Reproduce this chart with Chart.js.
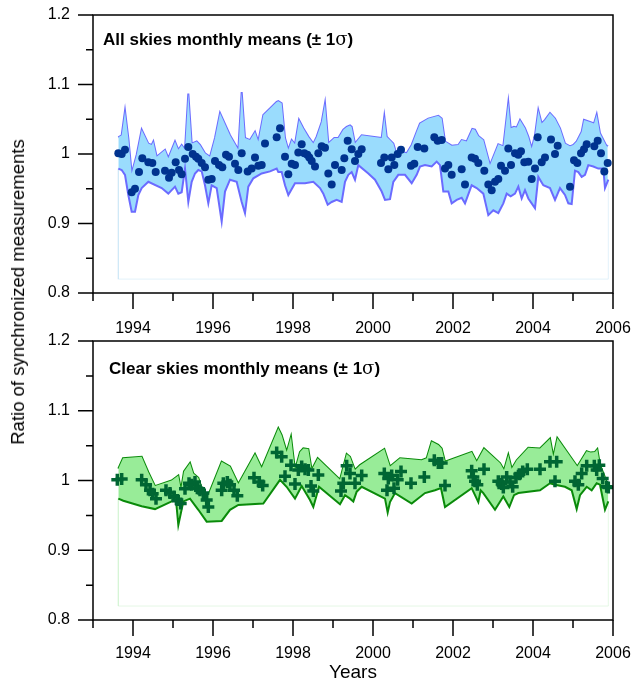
<!DOCTYPE html>
<html>
<head>
<meta charset="utf-8">
<script src="https://cdn.jsdelivr.net/npm/chart.js@4.4.1/dist/chart.umd.min.js"></script>
<style>
  body { margin: 0; background: #fff; overflow: hidden; }
  canvas { position: absolute; left: 0; }
  #topChart { top: 0; }
  #bottomChart { top: 326px; }
  #ytitle {
    position: absolute; left: 18px; top: 292px;
    transform: translate(-50%, -50%) rotate(-90deg);
    white-space: nowrap; font: 18.5px "Liberation Sans", Arial, sans-serif; color: #000;
  }
</style>
</head>
<body>
<canvas id="topChart" width="633" height="341"></canvas>
<canvas id="bottomChart" width="633" height="360"></canvas>
<div id="ytitle">Ratio of synchronized measurements</div>
<script>
// ========== DATA: ALL SKIES ==========
const allYears = [
  1993.633, 1993.717, 1993.8, 1993.967, 1994.05, 1994.15, 1994.233, 1994.383, 1994.483, 1994.567,
  1994.8, 1994.9, 1994.967, 1995.067, 1995.15, 1995.217, 1995.3, 1995.383, 1995.492, 1995.575,
  1995.633, 1995.717, 1995.8, 1995.883, 1995.967, 1996.05, 1996.15, 1996.233, 1996.325, 1996.4,
  1996.55, 1996.633, 1996.717, 1996.867, 1996.967, 1997.05, 1997.133, 1997.217, 1997.3, 1997.592,
  1997.675, 1997.8, 1997.883, 1997.967, 1998.05, 1998.133, 1998.217, 1998.283, 1998.358, 1998.408,
  1998.467, 1998.55, 1998.633, 1998.717, 1998.8, 1998.883, 1998.967, 1999.05, 1999.217, 1999.283,
  1999.367, 1999.467, 1999.55, 1999.633, 1999.717, 2000.2, 2000.283, 2000.383, 2000.467, 2000.533,
  2000.617, 2000.7, 2000.95, 2001.033, 2001.117, 2001.283, 2001.533, 2001.617, 2001.717, 2001.8,
  2001.883, 2001.967, 2002.217, 2002.3, 2002.467, 2002.55, 2002.633, 2002.783, 2002.883, 2002.967,
  2003.05, 2003.133, 2003.2, 2003.3, 2003.383, 2003.45, 2003.55, 2003.633, 2003.7, 2003.783,
  2003.883, 2003.967, 2004.05, 2004.117, 2004.217, 2004.3, 2004.45, 2004.55, 2004.617, 2004.925,
  2005.025, 2005.108, 2005.2, 2005.275, 2005.342, 2005.533, 2005.617, 2005.7, 2005.783, 2005.867
];
const allRatio = [
  1.001, 1.000, 1.006, 0.945, 0.950, 0.974, 0.994, 0.988, 0.987, 0.974,
  0.976, 0.966, 0.973, 0.988, 0.977, 0.971, 0.993, 1.010, 1.000, 0.996,
  0.993, 0.987, 0.981, 0.963, 0.964, 0.990, 0.984, 0.981, 0.999, 0.996,
  0.986, 0.977, 1.001, 0.975, 0.979, 0.995, 0.983, 0.984, 1.015, 1.024,
  1.037, 0.996, 0.971, 0.986, 0.984, 1.002, 1.014, 1.001, 0.999, 0.995,
  0.990, 0.982, 1.001, 1.011, 1.009, 0.972, 0.956, 0.984, 0.977, 0.994,
  1.019, 1.007, 0.990, 1.000, 1.007, 0.987, 0.995, 0.978, 0.995, 0.984,
  1.000, 1.006, 0.983, 0.986, 1.010, 1.008, 1.024, 1.019, 1.020, 0.979,
  0.984, 0.970, 0.978, 0.956, 0.995, 0.993, 0.987, 0.976, 0.956, 0.948,
  0.960, 0.964, 0.983, 0.976, 1.008, 0.984, 1.001, 0.999, 1.004, 0.988,
  0.989, 0.964, 0.979, 1.024, 0.988, 0.995, 1.021, 1.000, 1.012, 0.953,
  0.991, 0.987, 1.001, 1.007, 1.014, 1.011, 1.019, 1.001, 0.975, 0.987
];
const allUpperYears = [
  1993.633, 1993.717, 1993.8, 1993.883, 1993.967, 1994.092, 1994.217, 1994.383, 1994.467, 1994.508,
  1994.592, 1994.8, 1994.883, 1995.05, 1995.133, 1995.217, 1995.3, 1995.383, 1995.467, 1995.592,
  1995.675, 1995.8, 1995.925, 1996.05, 1996.175, 1996.425, 1996.633, 1996.717, 1996.8, 1996.925,
  1997.05, 1997.133, 1997.258, 1997.592, 1997.633, 1997.717, 1997.8, 1997.883, 1997.967, 1998.05,
  1998.15, 1998.258, 1998.383, 1998.508, 1998.592, 1998.717, 1998.8, 1998.883, 1999.033, 1999.133,
  1999.258, 1999.342, 1999.425, 1999.467, 1999.55, 1999.717, 2000.217, 2000.283, 2000.342, 2000.425,
  2000.508, 2000.592, 2000.717, 2000.842, 2000.967, 2001.092, 2001.175, 2001.383, 2001.633, 2001.717,
  2001.8, 2001.883, 2001.967, 2002.133, 2002.217, 2002.342, 2002.483, 2002.55, 2002.633, 2002.758,
  2002.925, 2003.133, 2003.258, 2003.383, 2003.442, 2003.525, 2003.592, 2003.675, 2003.8, 2003.883,
  2003.967, 2004.05, 2004.133, 2004.217, 2004.3, 2004.425, 2004.55, 2004.675, 2004.8, 2004.925,
  2005.008, 2005.092, 2005.217, 2005.275, 2005.425, 2005.525, 2005.592, 2005.675, 2005.842, 2005.867
];
const allUpper = [
  1.024, 1.027, 1.062, 1.023, 0.972, 0.999, 1.035, 1.015, 1.013, 1.018,
  0.996, 1.006, 0.994, 1.018, 1.006, 1.013, 1.006, 1.087, 1.015, 1.018,
  1.013, 1.001, 0.996, 1.023, 1.059, 1.027, 1.006, 1.089, 1.023, 1.020,
  1.032, 1.018, 1.056, 1.075, 1.076, 1.073, 1.023, 1.006, 1.020, 1.014,
  1.049, 1.037, 1.025, 1.015, 1.025, 1.046, 1.073, 1.015, 1.023, 1.023,
  1.035, 1.039, 1.041, 1.039, 1.015, 1.027, 1.023, 1.054, 1.025, 1.020,
  1.015, 0.999, 1.003, 1.001, 1.013, 1.032, 1.044, 1.051, 1.055, 1.051,
  1.018, 1.015, 1.012, 1.013, 1.020, 1.018, 1.036, 1.035, 1.026, 1.020,
  0.984, 1.014, 1.011, 1.074, 1.037, 1.039, 1.038, 1.049, 1.037, 1.025,
  1.008, 1.027, 1.063, 1.044, 1.049, 1.059, 1.051, 1.037, 1.015, 1.011,
  1.013, 1.018, 1.032, 1.049, 1.046, 1.044, 1.057, 1.030, 1.011, 1.013
];
const allLowerYears = [
  1993.633, 1993.717, 1993.8, 1993.883, 1993.967, 1994.05, 1994.133, 1994.217, 1994.383, 1994.717,
  1994.883, 1994.967, 1995.05, 1995.133, 1995.217, 1995.3, 1995.383, 1995.467, 1995.55, 1995.633,
  1995.717, 1995.8, 1995.883, 1995.967, 1996.092, 1996.217, 1996.3, 1996.425, 1996.592, 1996.717,
  1996.8, 1996.883, 1997.008, 1997.217, 1997.425, 1997.592, 1997.633, 1997.717, 1997.8, 1997.883,
  1998.05, 1998.3, 1998.508, 1998.675, 1998.758, 1998.867, 1998.967, 1999.092, 1999.217, 1999.3,
  1999.383, 1999.467, 1999.55, 1999.633, 1999.883, 2000.05, 2000.217, 2000.3, 2000.425, 2000.508,
  2000.633, 2000.8, 2000.967, 2001.092, 2001.175, 2001.3, 2001.467, 2001.592, 2001.675, 2001.758,
  2001.883, 2001.967, 2002.092, 2002.217, 2002.3, 2002.467, 2002.592, 2002.758, 2002.883, 2003.008,
  2003.133, 2003.258, 2003.342, 2003.442, 2003.55, 2003.633, 2003.717, 2003.8, 2003.883, 2003.967,
  2004.05, 2004.133, 2004.258, 2004.425, 2004.55, 2004.675, 2004.8, 2004.883, 2004.967, 2005.05,
  2005.133, 2005.217, 2005.3, 2005.383, 2005.508, 2005.633, 2005.758, 2005.8, 2005.883
];
const allLower = [
  0.979, 0.977, 0.970, 0.941, 0.917, 0.917, 0.941, 0.951, 0.960, 0.951,
  0.943, 0.948, 0.953, 0.943, 0.945, 0.979, 0.931, 0.960, 0.972, 0.977,
  0.975, 0.955, 0.929, 0.955, 0.951, 0.903, 0.946, 0.963, 0.960, 0.931,
  0.915, 0.953, 0.965, 0.972, 0.975, 0.979, 0.974, 0.974, 0.955, 0.941,
  0.958, 0.958, 0.960, 0.951, 0.943, 0.927, 0.931, 0.934, 0.931, 0.960,
  0.970, 0.974, 0.963, 0.984, 0.972, 0.963, 0.946, 0.934, 0.935, 0.960,
  0.970, 0.970, 0.958, 0.970, 0.982, 0.984, 0.982, 0.989, 0.984, 0.946,
  0.946, 0.929, 0.934, 0.937, 0.929, 0.955, 0.951, 0.943, 0.912, 0.919,
  0.915, 0.929, 0.943, 0.939, 0.943, 0.953, 0.936, 0.948, 0.936, 0.929,
  0.922, 0.967, 0.955, 0.951, 0.934, 0.951, 0.941, 0.929, 0.928, 0.976,
  0.974, 0.967, 0.970, 0.984, 0.982, 0.979, 0.979, 0.951, 0.963
];

// ========== DATA: CLEAR SKIES ==========
const clearYears = [
  1993.608, 1993.717, 1994.217, 1994.325, 1994.425, 1994.492, 1994.575, 1994.825, 1994.925, 1995.025,
  1995.108, 1995.192, 1995.3, 1995.4, 1995.467, 1995.55, 1995.608, 1995.675, 1995.758, 1995.842,
  1995.883, 1996.217, 1996.258, 1996.358, 1996.425, 1996.525, 1996.608, 1997.025, 1997.158, 1997.242,
  1997.592, 1997.717, 1997.8, 1997.95, 1998.05, 1998.133, 1998.217, 1998.3, 1998.383, 1998.45,
  1998.508, 1998.633, 1999.2, 1999.258, 1999.342, 1999.425, 1999.55, 1999.717, 2000.283, 2000.35,
  2000.383, 2000.467, 2000.525, 2000.617, 2000.7, 2000.95, 2001.283, 2001.533, 2001.633, 2001.717,
  2001.8, 2002.467, 2002.508, 2002.55, 2002.608, 2002.775, 2003.133, 2003.217, 2003.258, 2003.342,
  2003.425, 2003.492, 2003.575, 2003.658, 2003.742, 2003.858, 2004.175, 2004.425, 2004.55, 2004.592,
  2005.05, 2005.133, 2005.217, 2005.342, 2005.533, 2005.592, 2005.658, 2005.742, 2005.842, 2005.883
];
const clearRatio = [
  1.001, 1.002, 1.001, 0.994, 0.986, 0.981, 0.974, 0.986, 0.982, 0.977,
  0.972, 0.967, 0.988, 0.996, 0.994, 0.998, 0.989, 0.986, 0.982, 0.972,
  0.962, 0.986, 0.996, 0.998, 0.994, 0.986, 0.978, 1.004, 0.998, 0.993,
  1.040, 1.034, 1.006, 1.022, 0.995, 1.015, 1.020, 1.016, 1.015, 0.992,
  0.985, 1.008, 0.985, 0.996, 1.021, 1.010, 0.996, 1.007, 1.010, 0.986,
  1.003, 1.007, 0.989, 1.001, 1.013, 0.996, 1.005, 1.029, 1.025, 1.025,
  0.993, 1.014, 1.005, 0.999, 0.994, 1.016, 0.999, 0.995, 0.990, 1.005,
  0.998, 0.991, 1.004, 1.009, 1.013, 1.016, 1.016, 1.027, 0.999, 1.027,
  0.999, 0.994, 1.010, 1.021, 1.021, 1.015, 1.022, 1.003, 0.991, 0.990
];
const clearUpperYears = [
  1993.633, 1993.75, 1994.217, 1994.383, 1994.55, 1994.967, 1995.133, 1995.2, 1995.275, 1995.425,
  1995.508, 1995.633, 1995.75, 1995.883, 1996.217, 1996.425, 1996.633, 1997.05, 1997.217, 1997.633,
  1997.717, 1997.842, 1997.95, 1998.05, 1998.175, 1998.258, 1998.383, 1998.467, 1998.617, 1999.175,
  1999.342, 1999.425, 1999.55, 1999.675, 2000.283, 2000.425, 2000.675, 2001.217, 2001.342, 2001.467,
  2001.633, 2001.717, 2001.8, 2002.467, 2002.592, 2002.775, 2003.175, 2003.275, 2003.383, 2003.467,
  2003.592, 2003.883, 2004.175, 2004.425, 2004.508, 2004.608, 2005.108, 2005.342, 2005.442, 2005.55,
  2005.608, 2005.675, 2005.775, 2005.883
];
const clearUpper = [
  1.017, 1.032, 1.034, 1.012, 0.992, 1.000, 1.007, 0.986, 1.013, 1.025,
  1.010, 1.004, 0.983, 0.979, 1.027, 1.020, 0.995, 1.038, 1.018, 1.075,
  1.065, 1.041, 1.063, 1.015, 1.041, 1.046, 1.045, 1.015, 1.032, 1.001,
  1.038, 1.034, 1.015, 1.022, 1.045, 1.020, 1.032, 1.029, 1.032, 1.056,
  1.051, 1.046, 1.027, 1.041, 1.027, 1.046, 1.025, 1.015, 1.037, 1.017,
  1.029, 1.047, 1.046, 1.060, 1.034, 1.061, 1.020, 1.042, 1.040, 1.041,
  1.045, 1.022, 1.008, 0.990
];
const clearLowerYears = [
  1993.633, 1993.758, 1994.217, 1994.55, 1994.967, 1995.075, 1995.133, 1995.258, 1995.425, 1995.633,
  1995.842, 1996.217, 1996.425, 1996.633, 1997.258, 1997.675, 1997.84, 1998.05, 1998.217, 1998.425,
  1998.508, 1998.65, 1999.175, 1999.3, 1999.425, 1999.508, 1999.592, 1999.717, 2000.3, 2000.367,
  2000.425, 2000.55, 2000.967, 2001.3, 2001.55, 2001.7, 2001.8, 2002.467, 2002.55, 2002.633,
  2002.692, 2002.758, 2003.05, 2003.258, 2003.408, 2003.525, 2003.633, 2004.175, 2004.425, 2004.55,
  2004.8, 2004.967, 2005.092, 2005.175, 2005.342, 2005.467, 2005.592, 2005.675, 2005.8, 2005.883
];
const clearLower = [
  0.974, 0.971, 0.963, 0.959, 0.970, 0.972, 0.936, 0.970, 0.974, 0.958,
  0.941, 0.942, 0.958, 0.965, 0.967, 1.001, 0.991, 0.974, 0.992, 0.972,
  0.962, 0.991, 0.966, 0.979, 0.974, 0.970, 0.984, 0.991, 0.974, 0.954,
  0.969, 0.982, 0.967, 0.982, 0.986, 0.989, 0.962, 0.989, 0.979, 0.969,
  0.986, 0.982, 0.958, 0.977, 0.962, 0.979, 0.982, 0.986, 0.996, 0.994,
  0.991, 0.986, 0.959, 0.979, 0.991, 0.986, 0.996, 0.994, 0.958, 0.970
];

// ========== AXES ==========
const yearTicks = [1994, 1996, 1998, 2000, 2002, 2004, 2006];
const ratioTicks = [0.8, 0.9, 1, 1.1, 1.2];
const bandFloor = 0.82;   // faint outline left below each band

const FONT = '"Liberation Sans", Arial, sans-serif';

function pts(xs, ys) {
    return xs.map((x, i) => ({ x: x, y: ys[i] }));
}

// no label overflow padding, so the plot box lands where layout.padding says
function fixBox(s, key, size) {
    s[key] = size;
    s.paddingTop = 0;
    s.paddingBottom = 0;
    s.paddingLeft = 0;
    s.paddingRight = 0;
}

// ========== FRAME, TICKS, PANEL TITLE ==========
const framePlugin = {
    id: 'frame',
    afterDraw(chart, args, opts) {
        const { ctx, chartArea: a, scales: { x, y } } = chart;
        ctx.save();
        ctx.strokeStyle = '#000';
        ctx.lineWidth = 1.5;
        ctx.strokeRect(a.left, a.top, a.right - a.left, a.bottom - a.top);
        ctx.beginPath();
        y.ticks.forEach(t => {
            const py = y.getPixelForValue(t.value);
            const major = ratioTicks.some(r => Math.abs(r - t.value) < 1e-6);
            ctx.moveTo(a.left - (major ? 15 : 7), py);
            ctx.lineTo(a.left, py);
        });
        x.ticks.forEach(t => {
            const px = x.getPixelForValue(t.value);
            const major = yearTicks.includes(Math.round(t.value));
            ctx.moveTo(px, a.bottom);
            ctx.lineTo(px, a.bottom + (major ? 16 : 8));
        });
        ctx.stroke();

        // panel title, sigma in a plain face
        ctx.fillStyle = '#000';
        ctx.textBaseline = 'alphabetic';
        ctx.font = 'bold 17px ' + FONT;
        let tx = opts.x;
        ctx.fillText(opts.text, tx, opts.y);
        tx += ctx.measureText(opts.text).width;
        ctx.font = '18px "DejaVu Serif", serif';
        ctx.fillText('σ', tx, opts.y);
        tx += ctx.measureText('σ').width;
        ctx.font = 'bold 17px ' + FONT;
        ctx.fillText(')', tx, opts.y);
        ctx.restore();
    }
};

function makeChart(id, cfg) {
    const faint = [
        { x: cfg.lowerYears[0], y: cfg.lower[0] },
        { x: cfg.lowerYears[0], y: bandFloor },
        { x: cfg.lowerYears[cfg.lowerYears.length - 1], y: bandFloor },
        { x: cfg.lowerYears[cfg.lowerYears.length - 1], y: cfg.lower[cfg.lower.length - 1] }
    ];
    return new Chart(document.getElementById(id), {
        type: 'scatter',
        data: {
            datasets: [
                {
                    data: pts(cfg.years, cfg.ratio),
                    pointStyle: cfg.pointStyle,
                    pointRadius: cfg.pointRadius,
                    backgroundColor: cfg.markColor,
                    borderColor: cfg.markColor,
                    borderWidth: cfg.markBorder,
                    order: 0
                },
                {
                    data: pts(cfg.upperYears, cfg.upper),
                    showLine: true,
                    borderColor: cfg.lineColor,
                    borderWidth: 2,
                    pointRadius: 0,
                    fill: false,
                    order: 2
                },
                {
                    data: pts(cfg.lowerYears, cfg.lower),
                    showLine: true,
                    borderColor: cfg.lineColor,
                    backgroundColor: cfg.fillColor,
                    borderWidth: 2,
                    pointRadius: 0,
                    fill: '-1',
                    order: 1
                },
                {
                    data: faint,
                    showLine: true,
                    borderColor: cfg.faintColor,
                    borderWidth: 1,
                    pointRadius: 0,
                    order: 3
                }
            ]
        },
        options: {
            responsive: false,
            animation: false,
            devicePixelRatio: 1,
            layout: { padding: { top: 15, right: 20, left: 0, bottom: 0 } },
            plugins: {
                legend: { display: false },
                tooltip: { enabled: false },
                frame: { text: cfg.title, x: cfg.titleX, y: cfg.titleY }
            },
            scales: {
                x: {
                    type: 'linear',
                    min: 1993,
                    max: 2006,
                    afterFit: s => fixBox(s, 'height', cfg.xAxisHeight),
                    grid: { display: false, drawTicks: false },
                    border: { display: false },
                    ticks: {
                        stepSize: 1,
                        autoSkip: false,
                        maxRotation: 0,
                        padding: cfg.xPad,
                        color: '#000',
                        font: { family: FONT, size: 16 },
                        callback: v => yearTicks.includes(v) ? String(v) : ''
                    },
                    title: {
                        display: cfg.xTitle !== '',
                        text: cfg.xTitle,
                        color: '#000',
                        font: { family: FONT, size: 19 },
                        padding: { top: 0, bottom: 2 }
                    }
                },
                y: {
                    min: 0.8,
                    max: 1.2,
                    afterFit: s => fixBox(s, 'width', 93),
                    grid: { display: false, drawTicks: false },
                    border: { display: false },
                    ticks: {
                        stepSize: 0.05,
                        padding: 23,
                        color: '#000',
                        font: { family: FONT, size: 16 },
                        callback: v => {
                            const hit = ratioTicks.find(r => Math.abs(r - v) < 1e-6);
                            return hit === undefined ? '' : String(hit);
                        }
                    }
                }
            }
        },
        plugins: [framePlugin]
    });
}

makeChart('topChart', {
    years: allYears, ratio: allRatio,
    upperYears: allUpperYears, upper: allUpper,
    lowerYears: allLowerYears, lower: allLower,
    pointStyle: 'circle', pointRadius: 4, markBorder: 0, markColor: '#00338f',
    lineColor: '#6b6bff', fillColor: '#9adcfd', faintColor: 'rgba(190,225,245,0.45)',
    title: 'All skies monthly means (± 1', titleX: 103, titleY: 45,
    xAxisHeight: 48, xPad: 26, xTitle: ''
});

makeChart('bottomChart', {
    years: clearYears, ratio: clearRatio,
    upperYears: clearUpperYears, upper: clearUpper,
    lowerYears: clearLowerYears, lower: clearLower,
    pointStyle: 'cross', pointRadius: 6, markBorder: 3.5, markColor: '#006633',
    lineColor: '#0a8a0a', fillColor: '#98ec98', faintColor: 'rgba(200,240,200,0.45)',
    title: 'Clear skies monthly means (± 1', titleX: 109, titleY: 48,
    xAxisHeight: 66, xPad: 24, xTitle: 'Years'
});
</script>
</body>
</html>
